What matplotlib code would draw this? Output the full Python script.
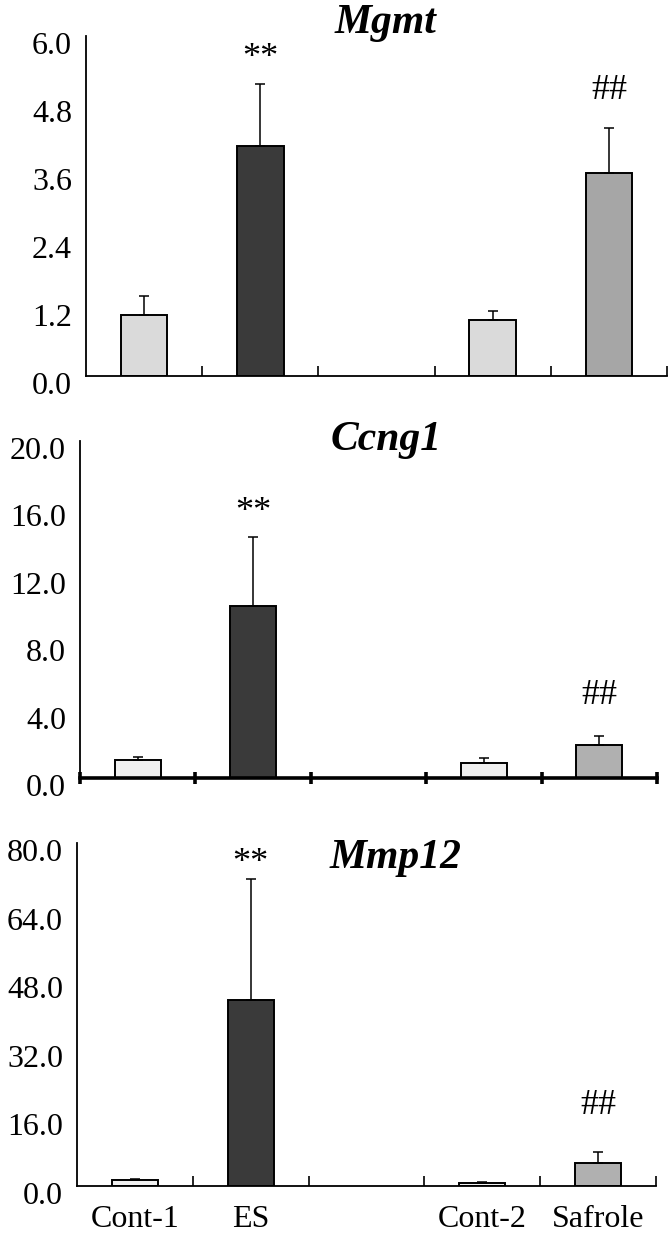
import matplotlib
matplotlib.use("Agg")
import matplotlib.pyplot as plt
import matplotlib.transforms as mtrans

plt.rcParams.update({"font.family": "Liberation Serif", "font.size": 22})

GROUPS = ["Cont-1", "ES", "", "Cont-2", "Safrole"]
GENES = ["Mgmt", "Ccng1", "Mmp12"]
YMAX = [6.0, 20.0, 80.0]
YSTEP = [1.2, 4.0, 16.0]

# mean and upper error (mean + SD) per group, slot 2 is empty
MGMT_MEAN = [1.08, 4.06, None, 0.99, 3.58]
MGMT_TOP = [1.41, 5.15, None, 1.15, 4.37]
CCNG1_MEAN = [1.04, 10.23, None, 0.90, 1.97]
CCNG1_TOP = [1.24, 14.28, None, 1.18, 2.49]
MMP12_MEAN = [1.32, 43.3, None, 0.70, 5.37]
MMP12_TOP = [1.71, 71.5, None, 0.93, 7.93]

STAR_Y = [5.6, 15.75, 75.2]   # "**" over ES
HASH_Y = [5.04, 4.9, 18.8]    # "##" over Safrole

MEANS = [MGMT_MEAN, CCNG1_MEAN, MMP12_MEAN]
TOPS = [MGMT_TOP, CCNG1_TOP, MMP12_TOP]

COLORS = [["#dadada", "#3a3a3a", "w", "#dadada", "#a6a6a6"],
          ["#f0f0f0", "#3a3a3a", "w", "#f0f0f0", "#b0b0b0"],
          ["#f0f0f0", "#3a3a3a", "w", "#f0f0f0", "#b0b0b0"]]

W, H = 669, 1236
fig = plt.figure(figsize=(W / 100, H / 100), dpi=100)
# pixel boxes: left, right, top(ymax), bottom(zero)
BOXES = [(86, 667, 36, 376), (80, 657, 441, 778), (77, 656, 843, 1186)]
TITLE_POS = [(0.516, 1.009), (0.530, 0.973), (0.550, 0.927)]

for i, gene in enumerate(GENES):
    l, r, t, b = BOXES[i]
    ax = fig.add_axes([l / W, 1 - b / H, (r - l) / W, (b - t) / H])
    xs = [k for k in range(5) if MEANS[i][k] is not None]
    m = [MEANS[i][k] for k in xs]
    e = [TOPS[i][k] - MEANS[i][k] for k in xs]
    ax.bar(xs, m, width=0.40, color=[COLORS[i][k] for k in xs],
           edgecolor="black", linewidth=1.4, zorder=2)
    ax.errorbar(xs, m, yerr=[[0] * len(xs), e], fmt="none", ecolor="black",
                elinewidth=1.1, capsize=3.5, capthick=1.1, zorder=3)
    ax.text(1, STAR_Y[i], "**", ha="center", va="center", fontsize=26)
    ax.text(4, HASH_Y[i], "##", ha="center", va="center", fontsize=26)

    ax.set_xlim(-0.5, 4.5)
    ax.set_ylim(0, YMAX[i])
    n = int(round(YMAX[i] / YSTEP[i]))
    ax.set_yticks([YSTEP[i] * k for k in range(n + 1)])
    ax.set_yticklabels([f"{YSTEP[i] * k:.1f}" for k in range(n + 1)])
    ax.tick_params(axis="y", length=0, pad=10, labelsize=23)
    ax.set_yticks([YMAX[i]], minor=True)
    ax.tick_params(axis="y", which="minor", direction="in", length=6, width=1.3)
    off = mtrans.ScaledTranslation(0, -5 / 72, fig.dpi_scale_trans)
    for lab in ax.get_yticklabels():
        lab.set_transform(lab.get_transform() + off)

    for s in ["top", "right"]:
        ax.spines[s].set_visible(False)
    ax.spines["left"].set_linewidth(1.3)

    if i == 1:
        ax.spines["bottom"].set_linewidth(2.6)
        ax.set_xticks([-0.5, 0.5, 1.5, 2.5, 3.5, 4.5])
        ax.tick_params(axis="x", which="major", direction="inout", length=9, width=2.6)
    else:
        ax.spines["bottom"].set_linewidth(1.3)
        ax.set_xticks([0.5, 1.5, 2.5, 3.5, 4.5])
        ax.tick_params(axis="x", which="major", direction="in", length=7, width=1.2)
    ax.set_xticklabels([])
    if i == 2:
        ax.set_xticks(range(5), minor=True)
        ax.set_xticklabels(GROUPS, minor=True)
        ax.tick_params(axis="x", which="minor", length=0, pad=14, labelsize=23)
    else:
        ax.set_xticks([], minor=True)

    tx, ty = TITLE_POS[i]
    ax.text(tx, ty, gene, transform=ax.transAxes, ha="center", va="baseline",
            fontsize=30, fontweight="bold", style="italic")

fig.savefig("out.png", dpi=100, facecolor="white")
